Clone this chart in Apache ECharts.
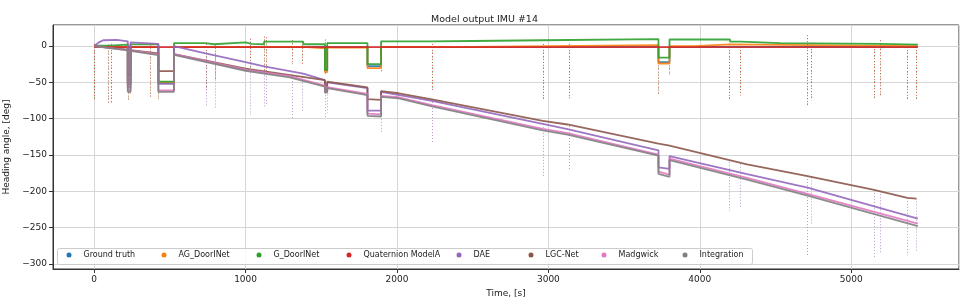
<!DOCTYPE html>
<html>
<head>
<meta charset="utf-8">
<script src="https://cdn.jsdelivr.net/npm/echarts@6/dist/echarts.min.js"></script>
<style>
html,body{margin:0;padding:0;background:#fff;}
#chart{width:969px;height:303px;}
</style>
</head>
<body>
<div id="chart"></div>
<script>
// ---- Data (time [s], heading [deg]) ----
const seriesNames = ['Ground truth','AG_DoorINet','G_DoorINet','Quaternion ModelA','DAE','LGC-Net','Madgwick','Integration'];
const seriesColors = ['#1f77b4','#ff7f0e','#2ca02c','#d62728','#9467bd','#8c564b','#e377c2','#7f7f7f'];

const groundTruth = [[0,-1],[222,-1],[222,-52],[240,-52],[240,-1],[424,-1],[424,-51],[527,-51],[527,-1],[1524,-1],[1524,-33],[1539,-33],[1539,-1],[1805,-1],[1805,-27.5],[1895,-27.5],[1895,-1],[3727,-1],[3727,-22],[3800,-22],[3800,-1],[5440,-1]];
const agDoorINet = [[0,-1.5],[222,-1.5],[222,-53],[240,-53],[240,-1.5],[424,-1.5],[424,-50],[527,-50],[527,-1],[1381,-1],[1381,-3],[1524,-3],[1524,-36],[1539,-36],[1539,-2],[1805,-2],[1805,-30.5],[1895,-30.5],[1895,-1],[2490,-1],[2490,1.2],[3727,1.2],[3727,-24],[3800,-24],[3800,0],[3960,0],[3960,2.2],[4200,2.2],[4200,0],[5440,0]];
const gDoorINet = [[0,0.5],[100,0.5],[100,2],[222,2],[222,-50],[240,-50],[240,2.3],[424,2.3],[424,-49],[527,-49],[527,4],[735,4],[735,2.5],[790,2.5],[790,5],[1000,5],[1000,3],[1040,3],[1040,2.5],[1122,2.5],[1122,6],[1381,6],[1381,2.5],[1524,2.5],[1524,-33],[1539,-33],[1539,4],[1805,4],[1805,-25],[1895,-25],[1895,6.5],[2230,6.5],[2230,7],[2500,7],[2500,8],[2960,8],[2960,9.5],[3727,9.5],[3727,-16],[3800,-16],[3800,9],[4200,9],[4200,6],[4270,6],[4270,4],[4530,4],[4530,3],[5190,3],[5190,2],[5440,2]];
const quaternionModelA = [[0,-1.5],[1000,-1.5],[2000,-1.5],[3000,-1.5],[4000,-1.5],[5440,-1.5]];
const dae = [[0,0],[30,5],[60,8],[150,8.5],[222,6.5],[222,-57],[240,-57],[240,5],[424,3],[424,-52],[527,-52],[527,0],[735,-10],[1000,-22],[1122,-28],[1381,-38],[1524,-47],[1524,-62],[1539,-62],[1539,-50],[1805,-58],[1805,-89],[1895,-89],[1895,-63],[2231,-75.5],[2963,-107],[3126,-114.5],[3727,-143.5],[3727,-167],[3800,-169],[3800,-151.5],[4312,-176.5],[4712,-195],[5440,-237.5]];
const lgcNet = [[0,0],[222,-5],[222,-40],[240,-40],[240,-5.5],[424,-10],[424,-34.5],[527,-34.5],[527,-11],[1000,-31],[1524,-47],[1524,-62],[1539,-62],[1539,-49],[1805,-57],[1805,-73],[1895,-74],[1895,-62],[2012,-65],[2231,-73.4],[2963,-103],[3126,-108],[3727,-134.5],[3727,-137],[3800,-137],[3800,-138.5],[4312,-163],[4712,-179],[5151,-198],[5371,-209],[5430,-210]];
const madgwick = [[0,0],[222,-5.5],[222,-61],[240,-61],[240,-6],[424,-11.5],[424,-61],[527,-61],[527,-11],[1000,-32.5],[1291,-41.5],[1524,-54.5],[1524,-63],[1539,-63],[1539,-56.5],[1805,-66],[1805,-93],[1895,-94],[1895,-68.5],[2012,-70.5],[2231,-81.5],[2963,-114],[3126,-120],[3727,-149.5],[3727,-173],[3800,-177],[3800,-155],[4312,-181.5],[4712,-203.5],[5440,-244.5]];
const integration = [[0,0],[222,-6],[222,-63],[240,-63],[240,-6.5],[424,-12.5],[424,-63],[527,-63],[527,-12],[1000,-34],[1291,-43],[1524,-56],[1524,-64],[1539,-64],[1539,-58],[1805,-67.5],[1805,-96],[1895,-97],[1895,-70],[2012,-72],[2231,-83],[2963,-116],[3126,-122],[3727,-151],[3727,-176],[3800,-180],[3800,-157],[4312,-184],[4712,-206],[5440,-248]];

// spikes: time, near-zero group top/bottom, drift group top/bottom (null = none)
const spikeT        = [2, 90, 112, 222, 240, 371, 420, 529, 738, 797, 1028, 1122, 1139, 1308, 1375, 1524, 1539, 1895, 2231, 2963, 3138, 3727, 3800, 4195, 4270, 4712, 4739, 5151, 5191, 5371, 5430];
const spikeNzTop    = [3, 2, 3, 2, 2, 2, 2, 3, 3, 2, 10, 13, 12, 8, 6, 9, 5, 4, 3, 3, 3, 2, 2, 3, 3, 15, 4, 4, 8, 3, 3];
const spikeNzBottom = [-75, -78, -78, -75, -65, -70, -73, -62, -60, -45, -30, -40, -40, -25, -25, -40, -30, -35, -62, -73, -72, -66, -40, -73, -68, -83, -75, -72, -69, -74, -73];
const spikeDrTop    = [null, null, null, null, null, null, null, null, -10, -13, -24, -28, -29, -40, -38, -47, -50, -63, -73, -103, -110, null, null, -160, -162, -179, -181, -198, -200, -209, -210];
const spikeDrBottom = [null, null, null, null, null, null, null, null, -84, -85, -95, -83, -83, -100, -90, -100, -92, -118, -133, -179, -171, null, null, -227, -222, -289, -245, -291, -286, -288, -283];

const xTicks = [0, 1000, 2000, 3000, 4000, 5000];
const yTicks = [0, -50, -100, -150, -200, -250, -300];

// ---- Build chart ----
const seriesData = [groundTruth, agDoorINet, gDoorINet, quaternionModelA, dae, lgcNet, madgwick, integration];
const font = 'DejaVu Sans';
const minus = v => String(v).replace('-', '\u2212');

const nzSpikes = [], drSpikes = [];
spikeT.forEach((t, i) => {
  nzSpikes.push({coords: [[t, spikeNzTop[i]], [t, spikeNzBottom[i]]]});
  if (spikeDrTop[i] !== null) drSpikes.push({coords: [[t, spikeDrTop[i]], [t, spikeDrBottom[i]]]});
});

const series = [];
series.push({
  name: 'spikes-nz', type: 'lines', coordinateSystem: 'cartesian2d', silent: true,
  lineStyle: {color: '#d62728', width: 1, type: [1, 2], opacity: 0.8}, data: nzSpikes, z: 2
});
series.push({
  name: 'spikes-nz2', type: 'lines', coordinateSystem: 'cartesian2d', silent: true,
  lineStyle: {color: '#2ca02c', width: 1, type: [1, 4], dashOffset: 2, opacity: 0.6}, data: nzSpikes, z: 2
});
series.push({
  name: 'spikes-drift', type: 'lines', coordinateSystem: 'cartesian2d', silent: true,
  lineStyle: {color: '#a77fb8', width: 1, type: [1, 2], opacity: 0.8}, data: drSpikes, z: 2
});
seriesNames.forEach((n, i) => {
  series.push({
    name: n, type: 'line', data: seriesData[i], showSymbol: false, symbol: 'circle',
    lineStyle: {color: seriesColors[i], width: 1.8, opacity: 0.9},
    itemStyle: {color: seriesColors[i]}, z: 3, silent: true
  });
});

// legend: one component per entry, placed like the reference
const legendMarkerX = [69, 164, 259, 349, 459, 531, 604, 685];
const legends = seriesNames.map((n, i) => ({
  data: [n], left: legendMarkerX[i] - 2.5, top: 251, padding: 0,
  icon: 'circle', itemWidth: 5, itemHeight: 5, z: 20,
  textStyle: {fontFamily: font, fontSize: 8, color: '#222', padding: [0, 0, 0, 7]}
}));

const chart = echarts.init(document.getElementById('chart'), null, {renderer: 'canvas'});
chart.setOption({
  animation: false,
  backgroundColor: '#ffffff',
  title: {
    text: 'Model output IMU #14', left: 'center', top: 10,
    textStyle: {fontFamily: font, fontSize: 9.5, fontWeight: 'normal', color: '#222'}
  },
  grid: {left: 53, right: 10, top: 25, bottom: 34, containLabel: false, outerBoundsMode: 'none',
         show: true, borderColor: '#333', borderWidth: 1, backgroundColor: 'transparent'},
  graphic: [{
    type: 'rect', left: 57, top: 248, z: 15,
    shape: {width: 695, height: 16, r: 2},
    style: {fill: 'rgba(255,255,255,0.8)', stroke: '#cccccc', lineWidth: 1}
  }],
  legend: legends,
  xAxis: {
    type: 'value', min: -272, max: 5712, splitNumber: 6,
    name: 'Time, [s]', nameLocation: 'middle', nameGap: 17,
    nameTextStyle: {fontFamily: font, fontSize: 9, color: '#222'},
    axisLine: {show: true, onZero: false, lineStyle: {color: '#333', width: 1}},
    axisTick: {show: true, length: 4, lineStyle: {color: '#333'}},
    axisLabel: {fontFamily: font, fontSize: 9, color: '#222', margin: 6,
      showMinLabel: false, showMaxLabel: false,
      formatter: v => (xTicks.indexOf(v) >= 0 ? minus(v) : '')},
    splitLine: {show: true, lineStyle: {color: '#d6d6d6', width: 1}}
  },
  yAxis: {
    type: 'value', min: -307, max: 29, splitNumber: 7,
    name: 'Heading angle, [deg]', nameLocation: 'middle', nameGap: 32, nameRotate: 90,
    nameTextStyle: {fontFamily: font, fontSize: 9, color: '#222'},
    axisLine: {show: true, onZero: false, lineStyle: {color: '#333', width: 1}},
    axisTick: {show: true, length: 4, lineStyle: {color: '#333'}},
    axisLabel: {fontFamily: font, fontSize: 9, color: '#222', margin: 6,
      showMinLabel: false, showMaxLabel: false,
      formatter: v => (yTicks.indexOf(v) >= 0 ? minus(v) : '')},
    splitLine: {show: true, lineStyle: {color: '#d6d6d6', width: 1}}
  },
  series: series
});
</script>
</body>
</html>
